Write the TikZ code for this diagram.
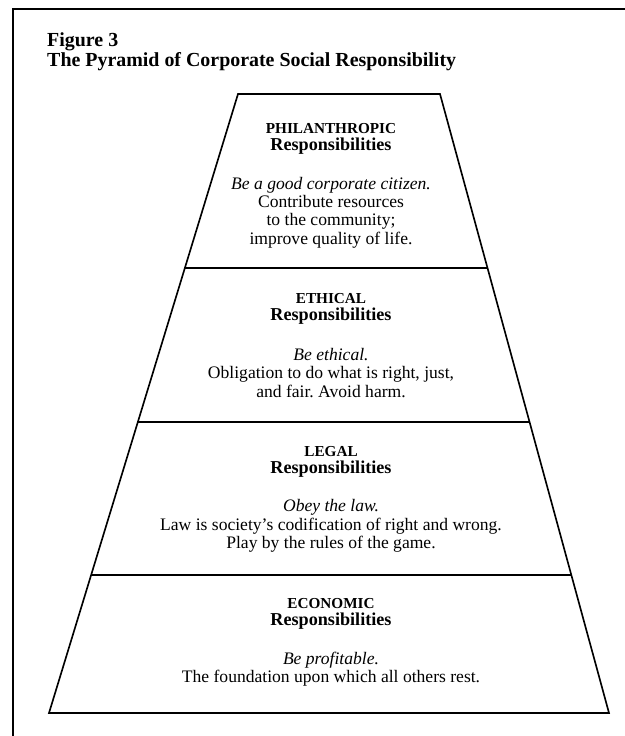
\documentclass[tikz,border=0pt]{standalone}
\usepackage{tikz}
\usepackage{fontspec}
\setmainfont{Liberation Serif}
\usetikzlibrary{calc}
\usetikzlibrary{positioning}
\frenchspacing

\tikzset{
    bandhead/.style={align=center, inner sep=0pt, font=\fontsize{15.5}{14.5}\selectfont\bfseries},
    bandtext/.style={align=center, inner sep=0pt, font=\fontsize{15}{15.7}\selectfont},
    pyramidline/.style={line width=1.4pt, line join=miter},
}
\newcommand{\capsword}[1]{{\fontsize{13}{14.5}\selectfont #1}}

\begin{document}
\begin{tikzpicture}[x=0.03cm,y=-0.03cm]
            \useasboundingbox (0,0) rectangle (625,736);
            \draw [line width=1.9pt] (12.7,736) -- (12.7,9) -- (625,9);

            \node [anchor=base west, inner sep=0pt, font=\fontsize{17}{18}\selectfont\bfseries] (fignum) at (47,46.7) {Figure 3};
            \node [anchor=base west, inner sep=0pt, font=\fontsize{17}{18}\selectfont\bfseries] (figtitle) at (47,66.7) {The Pyramid of Corporate Social Responsibility};

            \coordinate (tl) at (238,94);
            \coordinate (tr) at (440,94);
            \coordinate (br) at (609,713);
            \coordinate (bl) at (49,713);
            \draw [pyramidline] (tl) -- (tr) -- (br) -- (bl) -- cycle;
            \foreach \t in {0.281,0.530,0.777}
                \draw [pyramidline] ($(tl)!\t!(bl)$) -- ($(tr)!\t!(br)$);

            \node [bandhead] (philhead) at (331,139) {\capsword{PHILANTHROPIC}\\Responsibilities};
            \node [bandtext] (philtext) at (331,212.5) {\textit{Be a good corporate citizen.}\\Contribute resources\\to the community;\\improve quality of life.};

            \node [bandhead] (ethhead) at (331,308.5) {\capsword{ETHICAL}\\Responsibilities};
            \node [bandtext] (ethtext) at (331,373) {\textit{Be ethical.}\\Obligation to do what is right, just,\\and fair. Avoid harm.};

            \node [bandhead] (leghead) at (331,461.5) {\capsword{LEGAL}\\Responsibilities};
            \node [bandtext] (legtext) at (331,526) {\textit{Obey the law.}\\Law is society's codification of right and wrong.\\Play by the rules of the game.};

            \node [bandhead] (ecohead) at (331,613.5) {\capsword{ECONOMIC}\\Responsibilities};
            \node [bandtext] (ecotext) at (331,669) {\textit{Be profitable.}\\The foundation upon which all others rest.};
        \end{tikzpicture}
\end{document}
